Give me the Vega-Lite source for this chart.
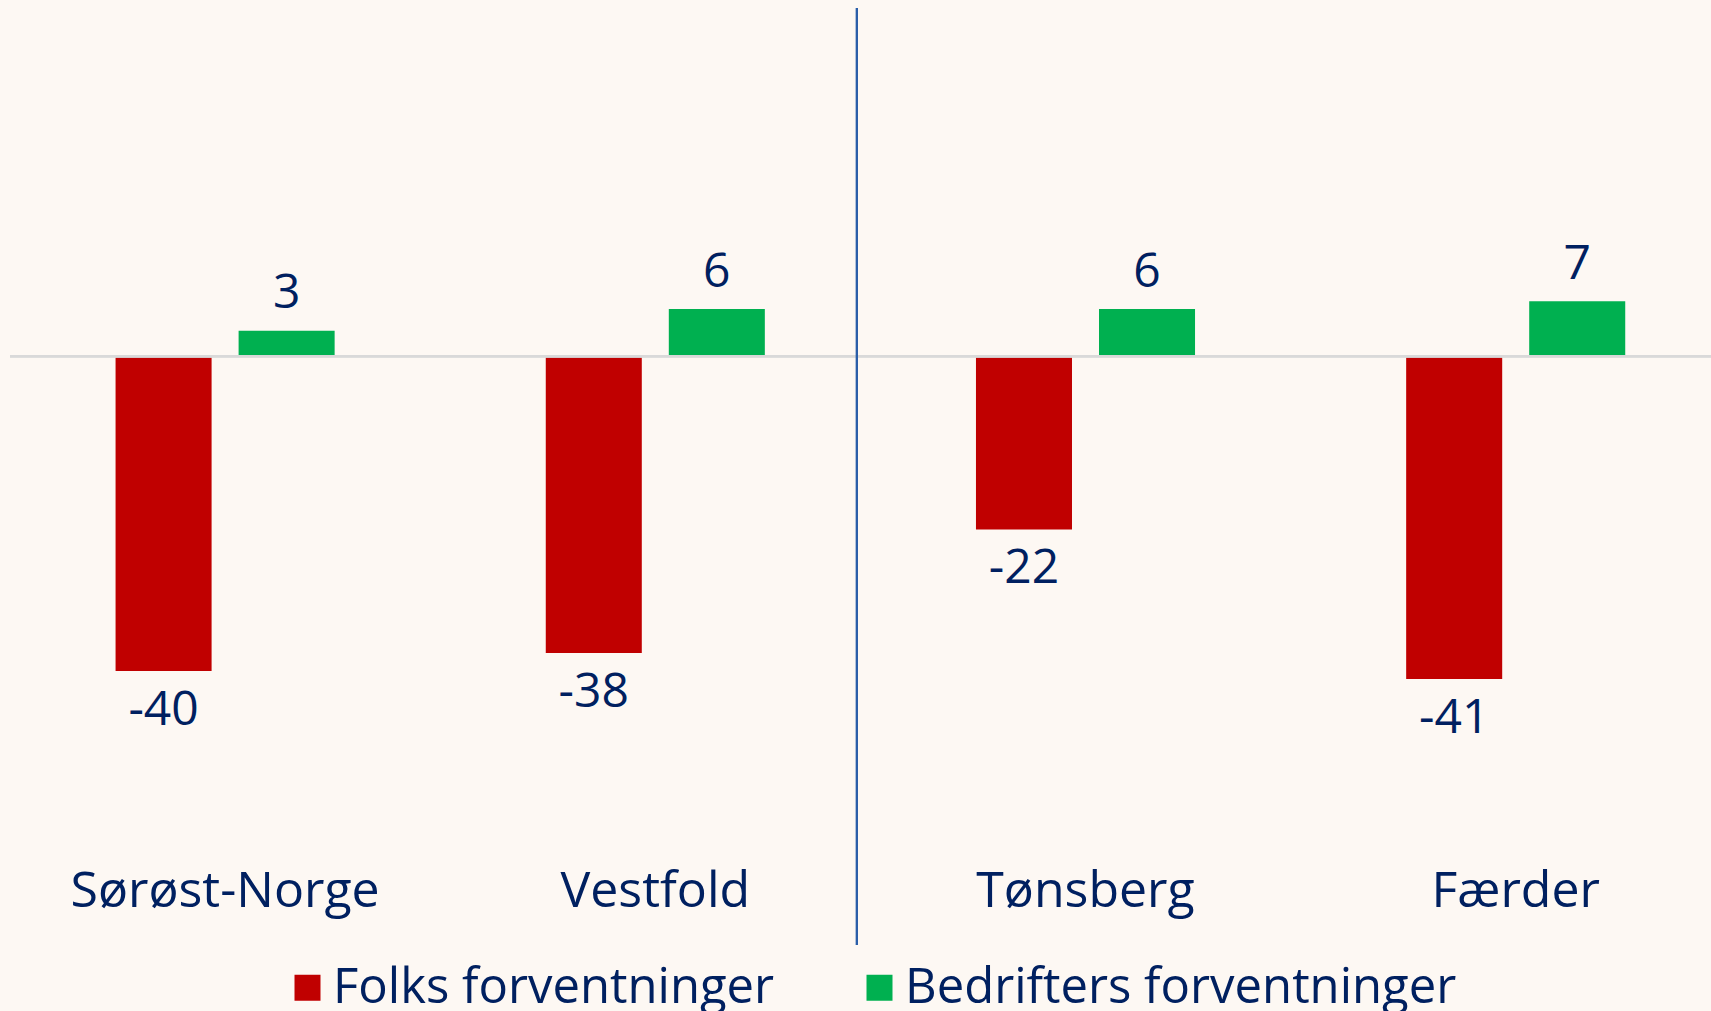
{
  "$schema": "https://vega.github.io/schema/vega-lite/v6.json",
  "width": 1701,
  "height": 852,
  "autosize": {"type": "none"},
  "padding": {"left": 10, "top": 8, "right": 0, "bottom": 151},
  "background": "#FDF8F3",
  "config": {
    "font": "Open Sans",
    "view": {"stroke": null},
    "text": {"font": "Open Sans", "color": "#002060"},
    "locale": {"number": {"decimal": ".", "thousands": ",", "grouping": [3], "currency": ["", ""], "minus": "-"}}
  },
  "data": {
    "values": [
      {"Region": "Sørøst-Norge", "Serie": "Folks forventninger", "Verdi": -40},
      {"Region": "Sørøst-Norge", "Serie": "Bedrifters forventninger", "Verdi": 3.25},
      {"Region": "Vestfold", "Serie": "Folks forventninger", "Verdi": -37.7},
      {"Region": "Vestfold", "Serie": "Bedrifters forventninger", "Verdi": 6},
      {"Region": "Tønsberg", "Serie": "Folks forventninger", "Verdi": -22},
      {"Region": "Tønsberg", "Serie": "Bedrifters forventninger", "Verdi": 6},
      {"Region": "Færder", "Serie": "Folks forventninger", "Verdi": -41},
      {"Region": "Færder", "Serie": "Bedrifters forventninger", "Verdi": 7}
    ]
  },
  "encoding": {
    "x": {
      "field": "Region",
      "type": "nominal",
      "sort": ["Sørøst-Norge", "Vestfold", "Tønsberg", "Færder"],
      "scale": {"paddingInner": 0, "paddingOuter": 0, "range": [0, 1720.8]},
      "axis": {
        "title": null,
        "domain": false,
        "ticks": false,
        "tickSize": 0,
        "grid": false,
        "labelAngle": 0,
        "labelFont": "Open Sans",
        "labelFontSize": 50,
        "labelColor": "#002060",
        "labelBaseline": "alphabetic",
        "labelPadding": 46.7,
        "labelLimit": 1000
      }
    }
  },
  "layer": [
    {
      "mark": {"type": "bar"},
      "encoding": {
        "xOffset": {
          "field": "Serie",
          "type": "nominal",
          "sort": ["Folks forventninger", "Bedrifters forventninger"],
          "scale": {"paddingInner": 0.2195, "paddingOuter": 0.858}
        },
        "y": {
          "field": "Verdi",
          "type": "quantitative",
          "scale": {"domain": [-64, 44.26], "nice": false, "zero": true},
          "axis": null
        },
        "color": {
          "field": "Serie",
          "type": "nominal",
          "sort": ["Folks forventninger", "Bedrifters forventninger"],
          "scale": {"domain": ["Folks forventninger", "Bedrifters forventninger"], "range": ["#C00000", "#00B050"]},
          "legend": {
            "title": null,
            "orient": "none",
            "direction": "horizontal",
            "legendX": 273,
            "legendY": 955,
            "symbolType": "square",
            "symbolSize": 676,
            "symbolStrokeWidth": 0,
            "symbolOpacity": 1,
            "labelFont": "Open Sans",
            "labelFontSize": 49,
            "labelColor": "#002060",
            "labelOffset": 1,
            "columnPadding": 80,
            "padding": 0,
            "labelLimit": 1000
          }
        }
      }
    },
    {
      "mark": {"type": "rule", "color": "#D9D9D9", "strokeWidth": 2},
      "encoding": {"y": {"datum": 0, "type": "quantitative"}, "x": null}
    },
    {
      "transform": [{"filter": "datum.Verdi >= 0"}],
      "mark": {"type": "text", "baseline": "alphabetic", "align": "center", "dy": -22.5, "fontSize": 48, "color": "#002060"},
      "encoding": {
        "xOffset": {"field": "Serie", "type": "nominal", "sort": ["Folks forventninger", "Bedrifters forventninger"]},
        "y": {"field": "Verdi", "type": "quantitative"},
        "text": {"field": "Verdi", "type": "quantitative", "format": ".0f"}
      }
    },
    {
      "transform": [{"filter": "datum.Verdi < 0"}],
      "mark": {"type": "text", "baseline": "alphabetic", "align": "center", "dy": 54, "fontSize": 48, "color": "#002060"},
      "encoding": {
        "xOffset": {"field": "Serie", "type": "nominal", "sort": ["Folks forventninger", "Bedrifters forventninger"]},
        "y": {"field": "Verdi", "type": "quantitative"},
        "text": {"field": "Verdi", "type": "quantitative", "format": ".0f"}
      }
    },
    {
      "mark": {"type": "rule", "color": "#2A5EA8", "strokeWidth": 1.5, "xOffset": -13.7, "clip": false},
      "encoding": {
        "x": {"datum": "Tønsberg", "bandPosition": 0},
        "y": {"datum": 44.26, "type": "quantitative"},
        "y2": {"datum": -74.8}
      }
    }
  ],
  "resolve": {"scale": {"y": "shared", "xOffset": "shared"}}
}
